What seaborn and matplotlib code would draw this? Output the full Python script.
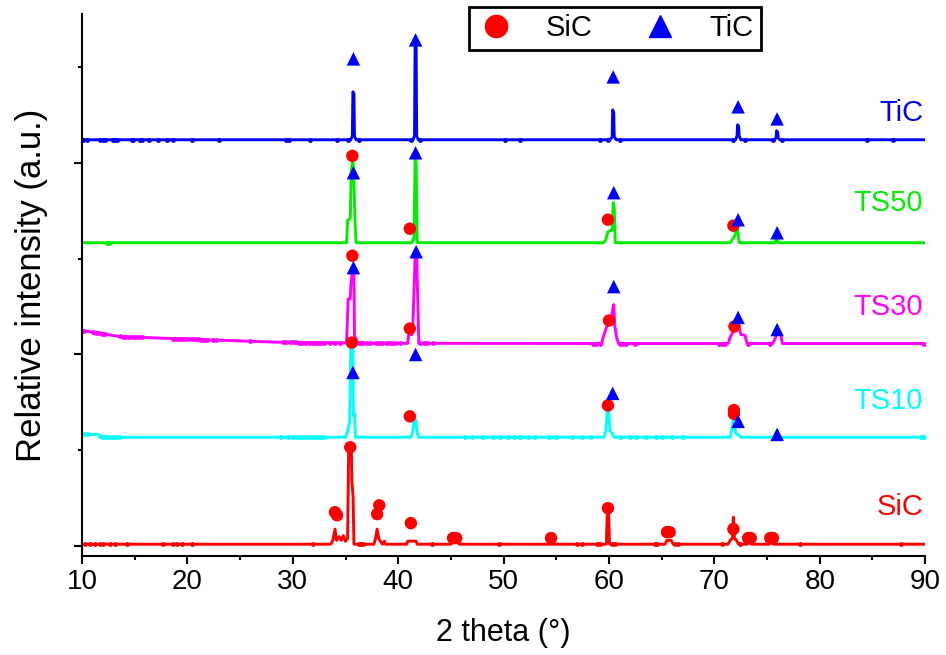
"""XRD patterns of SiC / TiC composites, stacked."""

import matplotlib
matplotlib.use("Agg")
import matplotlib.pyplot as plt
from matplotlib.lines import Line2D
from matplotlib.ticker import MultipleLocator
import numpy as np
import seaborn as sns

# --- patterns (2 theta, stacked intensity in a.u.) ---
tic_x = [10, 35.5, 35.65, 35.7, 35.8, 35.85, 36.0, 41.4, 41.55, 41.6, 41.7, 41.75, 41.9,
         60.1, 60.3, 60.35, 60.45, 60.5, 60.7, 72.0, 72.15, 72.2, 72.3, 72.35, 72.5,
         75.7, 75.85, 75.9, 76.0, 76.05, 76.2, 90]
tic_y = [2120, 2120, 2140, 2370, 2360, 2140, 2120, 2120, 2140, 2615, 2600, 2140, 2120,
         2120, 2135, 2276, 2260, 2135, 2120, 2120, 2140, 2198, 2190, 2140, 2120,
         2120, 2130, 2167, 2160, 2130, 2120, 2120]

ts50_x = [10, 35.1, 35.2, 35.45, 35.55, 35.7, 35.8, 35.9, 36.0, 41.3, 41.4, 41.5, 41.6, 41.7, 41.8,
          59.5, 59.7, 59.9, 60.3, 60.4, 60.5, 60.6, 71.5, 71.7, 71.95, 72.1, 72.2, 72.35,
          75.8, 75.85, 76.0, 76.05, 90]
ts50_y = [1583, 1583, 1700, 1710, 1960, 2016, 1900, 1700, 1583, 1583, 1600, 1600, 2016, 2000, 1583,
          1583, 1600, 1641, 1650, 1792, 1760, 1583, 1583, 1600, 1620, 1667, 1650, 1583,
          1583, 1615, 1615, 1583, 1583]

ts30_x = [10, 13.5, 18.5, 29.0, 35.1, 35.25, 35.45, 35.5, 35.65, 35.8, 35.85, 36.0, 36.2,
          40.9, 41.0, 41.3, 41.4, 41.6, 41.75, 41.85, 41.95,
          59.3, 59.5, 59.8, 60.1, 60.3, 60.45, 60.55, 60.7, 60.9,
          71.3, 71.5, 71.8, 72.0, 72.3, 72.5, 72.9, 73.1, 75.5, 75.7, 75.9, 76.3, 76.45, 90]
ts30_y = [1125, 1094, 1083, 1063, 1060, 1290, 1290, 1354, 1440, 1420, 1100, 1080, 1058,
          1058, 1104, 1104, 1170, 1500, 1521, 1300, 1058,
          1057, 1100, 1146, 1160, 1220, 1260, 1150, 1094, 1057,
          1057, 1090, 1120, 1156, 1156, 1104, 1100, 1057, 1057, 1075, 1104, 1104, 1057, 1057]

ts10_x = [10, 11.5, 11.8, 35.0, 35.2, 35.4, 35.5, 35.7, 35.75, 35.85, 35.95,
          41.2, 41.4, 41.5, 41.65, 41.8, 41.95, 59.5, 59.7, 59.85, 59.95, 60.1, 60.3, 60.5,
          71.5, 71.7, 71.8, 71.9, 72.0, 72.3, 72.5, 90]
ts10_y = [583, 583, 568, 568, 600, 650, 1042, 1042, 680, 690, 568,
          568, 600, 661, 661, 590, 568, 568, 600, 714, 714, 600, 590, 568,
          568, 620, 661, 661, 590, 580, 568, 568]

sic_x = [10, 33.6, 33.8, 34.0, 34.15, 34.4, 34.6, 34.8, 35.0, 35.2, 35.3, 35.55, 35.6, 35.72, 35.8,
         37.7, 37.85, 38.0, 38.15, 38.5, 38.7, 38.8, 40.8, 40.9, 41.7, 41.8, 45.0, 45.2, 45.6, 45.8,
         59.75, 59.85, 59.95, 60.05, 65.3, 65.5, 65.9, 66.1, 71.3, 71.5, 71.7, 71.8, 71.9, 72.1, 72.3,
         73.1, 73.3, 73.5, 75.2, 75.4, 75.6, 90]
sic_y = [10, 10, 30, 89, 30, 50, 30, 55, 25, 40, 516, 516, 339, 260, 10,
         10, 40, 89, 40, 10, 26, 10, 10, 26, 26, 10, 10, 25, 25, 10,
         10, 198, 198, 10, 10, 30, 30, 10, 10, 30, 40, 151, 40, 30, 10,
         10, 20, 10, 10, 20, 10, 10]

# small noise points that show up as dots along each baseline
tic_dots = [10.1, 10.5, 11.7, 12.0, 12.2, 12.9, 13.1, 13.3, 14.7, 14.8, 15.5, 15.7, 16.4, 17.2,
            18.1, 18.6, 20.4, 23.0, 29.4, 29.6, 31.6, 34.2, 35.2, 36.3, 41.2, 42.1, 50.1, 51.6,
            59.1, 59.9, 61.0, 71.8, 72.9, 75.6, 76.4, 84.5, 86.9]
ts50_dots = [12.4, 12.6]
ts30_dots = [10.2, 11.0, 11.3, 11.6, 11.9, 12.2, 13.6, 13.9, 14.2, 14.5, 14.8, 15.1, 15.4, 15.7,
             18.6, 18.9, 19.2, 19.5, 19.8, 20.1, 20.4, 20.7, 21.0, 21.3, 21.6, 21.9, 22.4, 22.7,
             25.9, 29.1, 29.4, 29.7, 30.0, 30.3, 30.6, 30.9, 31.2, 31.5, 31.8, 32.1, 32.4, 32.7,
             33.0, 33.5, 34.0, 34.5, 36.3, 36.5, 36.7, 37.0, 37.3, 37.9, 38.2, 38.5, 38.8, 39.1,
             39.4, 39.7, 40.2, 42.1, 42.4, 42.7, 43.3, 58.5, 58.8, 59.1, 61.0, 61.3, 61.6, 62.5,
             70.4, 70.7, 71.0, 73.2, 75.3, 89.9]
ts10_dots = [10.2, 10.5, 11.7, 12.0, 12.3, 12.6, 12.9, 13.2, 13.5, 28.9, 29.5, 30.0, 30.3, 30.6,
             30.9, 31.2, 31.5, 31.8, 32.1, 32.4, 32.7, 33.0, 46.3, 47.0, 48.0, 49.0, 49.7, 50.4,
             51.0, 51.6, 52.3, 53.0, 54.3, 55.0, 56.5, 57.4, 58.3, 61.0, 62.0, 62.6, 63.5, 64.5,
             65.0, 66.0, 67.0, 89.6, 89.9]
sic_dots = [10.3, 10.8, 11.2, 11.7, 12.0, 12.7, 13.1, 14.3, 17.7, 18.6, 19.0, 19.5, 20.4, 31.9,
            36.3, 36.5, 36.7, 43.2, 49.6, 57.0, 57.4, 58.9, 59.1, 60.3, 60.6, 64.4, 64.6, 66.3,
            66.5, 70.7, 72.4, 78.1, 87.7]

# phase markers: SiC (circles) and TiC (triangles)
sic_phase_x = [34.0, 34.2, 35.45, 38.0, 38.2, 41.2, 45.2, 45.5, 54.5, 59.9, 65.5, 65.75, 71.8,
               73.2, 73.45, 75.3, 75.55,
               35.6, 41.1, 59.9, 71.85, 71.85,
               35.65, 41.1, 60.0, 71.9,
               35.65, 41.1, 59.9, 71.8]
sic_phase_y = [177, 161, 516, 167, 213, 120, 42, 42, 42, 198, 73, 73, 89,
               42, 42, 42, 42,
               1062, 677, 734, 710, 690,
               1515, 1135, 1177, 1146,
               2036, 1656, 1703, 1672]
tic_phase_x = [35.75, 41.65, 60.4, 72.25, 75.95,
               35.75, 41.65, 60.45, 72.25, 75.95,
               35.75, 41.7, 60.45, 72.25, 75.95,
               35.7, 41.65, 60.35, 72.25, 75.95]
tic_phase_y = [2542, 2641, 2448, 2292, 2229,
               1948, 2052, 1844, 1703, 1635,
               1453, 1536, 1354, 1193, 1130,
               906, 1000, 797, 651, 583]

sample_names = ["TiC", "TS50", "TS30", "TS10", "SiC"]
sample_colors = ["#0000ff", "#00ee00", "#ff00ff", "#00ffff", "#ff0000"]
label_y = [2260, 1792, 1250, 755, 203]

sns.set_style("ticks")
plt.rcParams["font.family"] = ["Liberation Sans", "DejaVu Sans"]
plt.rcParams.update({"text.color": "black", "axes.labelcolor": "black",
                     "xtick.color": "black", "ytick.color": "black"})

fig, ax = plt.subplots(figsize=(9.46, 6.55), dpi=100)
fig.subplots_adjust(left=0.0867, right=0.978, top=0.9786, bottom=0.151)

patterns = [(tic_x, tic_y, tic_dots), (ts50_x, ts50_y, ts50_dots), (ts30_x, ts30_y, ts30_dots),
            (ts10_x, ts10_y, ts10_dots), (sic_x, sic_y, sic_dots)]
for (xs, ys, dots), name, color, ly in zip(patterns, sample_names, sample_colors, label_y):
    sns.lineplot(x=xs, y=ys, color=color, lw=2.1, sort=False, estimator=None, ax=ax)
    ax.plot(dots, np.interp(dots, xs, ys), "o", ms=3.5, color=color, mew=0)
    ax.text(89.8, ly, name, ha="right", va="center", fontsize=21, color=color)

sns.scatterplot(x=sic_phase_x, y=sic_phase_y, marker="o", s=80, color="#ff0000",
                edgecolor="none", ax=ax, zorder=4)
sns.scatterplot(x=tic_phase_x, y=tic_phase_y, marker="^", s=95, color="#0000ff",
                edgecolor="none", ax=ax, zorder=4)

ax.set_xlim(10, 90)
ax.set_ylim(-52, 2776)
ax.xaxis.set_major_locator(MultipleLocator(10))
ax.xaxis.set_minor_locator(MultipleLocator(5))
ax.yaxis.set_major_locator(MultipleLocator(1000))
ax.yaxis.set_minor_locator(MultipleLocator(500))
ax.tick_params(which="major", length=6, width=1.5, direction="out", labelsize=20)
ax.tick_params(which="minor", length=3, width=1.5, direction="out")
ax.tick_params(axis="y", labelleft=False)
sns.despine(ax=ax)
for side in ("left", "bottom"):
    ax.spines[side].set_linewidth(1.5)
    ax.spines[side].set_color("black")

ax.set_xlabel("2 theta (°)", fontsize=22, labelpad=16)
ax.set_ylabel("Relative intensity (a.u.)", fontsize=25, labelpad=18)

handles = [Line2D([], [], marker="o", color="#ff0000", ls="none", ms=16),
           Line2D([], [], marker="^", color="#0000ff", ls="none", ms=16)]
leg = ax.legend(handles, ["SiC", "TiC"], ncol=2, loc="upper center", bbox_to_anchor=(0.632, 1.013),
                borderaxespad=0, frameon=True, fancybox=False, edgecolor="black", framealpha=1,
                fontsize=21, handletextpad=1.0, columnspacing=1.6, borderpad=0.25,
                handlelength=1.4)
leg.get_frame().set_linewidth(2)

fig.savefig("out.png", dpi=100)
plt.close(fig)
